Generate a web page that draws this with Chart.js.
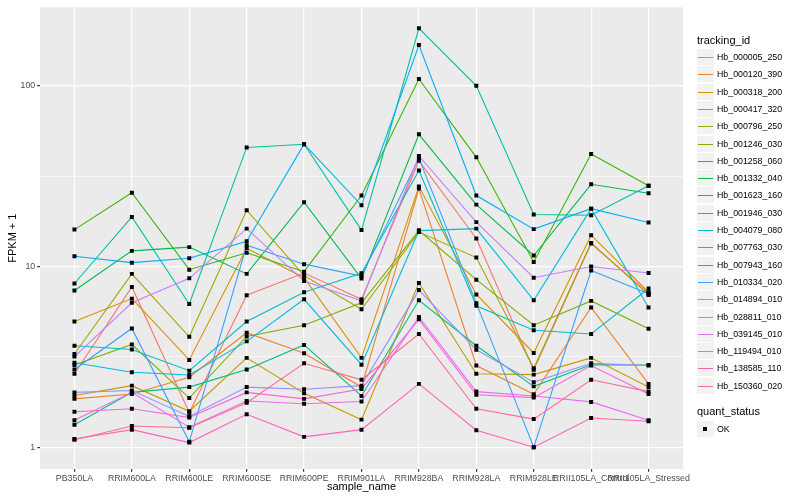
<!DOCTYPE html>
<html>
<head>
<meta charset="utf-8">
<script src="https://cdn.jsdelivr.net/npm/chart.js@4.4.0/dist/chart.umd.min.js"></script>
<style>
  body { margin: 0; background: #ffffff; }
  #wrap { position: relative; width: 800px; height: 500px; font-family: "Liberation Sans", Arial, sans-serif; }
  #chart { position: absolute; left: 0; top: 0; }
  .ttl { position: absolute; left: 697px; font-size: 11px; line-height: 13px; color: #000; white-space: nowrap; }
  .key { position: absolute; left: 697px; width: 17px; height: 16px; background: #F2F2F2; }
  .key span { position: absolute; left: 1px; width: 15px; top: 8px; height: 1px; }
  .key b { position: absolute; left: 6px; top: 6px; width: 4px; height: 4px; background: #000; }
  .lbl { position: absolute; left: 717px; font-size: 8.8px; line-height: 10px; color: #000; white-space: nowrap; }
</style>
</head>
<body>
<div id="wrap">
  <canvas id="chart" width="800" height="500"></canvas>
  <div id="legend"></div>
</div>
<script>
// Categories on the x axis
const sampleNames = ['PB350LA', 'RRIM600LA', 'RRIM600LE', 'RRIM600SE', 'RRIM600PE', 'RRIM901LA',
  'RRIM928BA', 'RRIM928LA', 'RRIM928LE', 'RRII105LA_Control', 'RRII105LA_Stressed'];

// FPKM + 1 per gene, one value per sample
const hb_000005_250 = [2.55, 7.7, 1.55, 6.93, 9.2, 6.58, 38.5, 14.3, 2.68, 13.4, 7.07];
const hb_000120_390 = [1.85, 1.97, 2.44, 4.3, 3.31, 2.15, 27.0, 2.83, 1.96, 5.93, 2.24];
const hb_000318_200 = [4.96, 6.64, 3.04, 12.6, 8.66, 3.12, 27.7, 7.0, 3.32, 14.9, 7.2];
const hb_000417_320 = [1.93, 2.19, 1.58, 3.12, 1.99, 1.42, 8.1, 2.55, 2.52, 3.12, 2.15];
const hb_000796_250 = [3.28, 9.1, 4.08, 20.5, 8.9, 5.8, 15.5, 11.2, 2.73, 13.5, 6.96];
const hb_001246_030 = [2.85, 3.7, 1.87, 4.1, 4.73, 6.3, 15.8, 8.45, 4.73, 6.45, 4.52];
const hb_001258_060 = [16.0, 25.6, 9.6, 11.9, 9.36, 24.7, 109, 40.2, 10.6, 41.9, 28.0];
const hb_001332_040 = [7.36, 12.2, 12.8, 9.1, 22.7, 8.57, 53.9, 22.0, 11.5, 28.5, 25.4];
const hb_001623_160 = [1.33, 2.01, 2.15, 2.69, 3.68, 1.92, 6.5, 3.64, 2.17, 2.86, 2.85];
const hb_001946_030 = [8.05, 18.8, 6.2, 45.6, 47.5, 15.9, 208, 100, 19.4, 19.2, 28.0];
const hb_004079_080 = [3.64, 3.47, 2.65, 4.96, 7.2, 9.17, 34.0, 6.06, 4.44, 4.23, 7.55];
const hb_007763_030 = [2.93, 2.6, 2.51, 3.85, 6.58, 2.86, 15.8, 16.2, 6.5, 20.9, 5.93];
const hb_007943_160 = [11.4, 10.5, 11.1, 13.8, 47.5, 21.8, 168, 24.7, 16.1, 20.9, 17.5];
const hb_010334_020 = [2.69, 4.54, 1.07, 13.1, 10.3, 8.84, 39.8, 6.27, 1.0, 9.5, 7.07];
const hb_014894_010 = [2.01, 2.06, 1.48, 2.15, 2.09, 2.19, 7.4, 3.46, 2.29, 2.91, 2.83];
const hb_028811_010 = [3.17, 6.3, 8.6, 16.2, 8.3, 6.45, 40.9, 17.6, 8.67, 10.0, 9.2];
const hb_039145_010 = [1.41, 2.01, 1.29, 1.80, 1.74, 1.79, 5.26, 2.03, 1.92, 1.78, 1.41];
const hb_119494_010 = [1.57, 1.63, 1.46, 2.01, 1.85, 2.1, 5.1, 1.95, 1.88, 2.83, 1.97];
const hb_138585_110 = [1.11, 1.25, 1.06, 1.52, 1.14, 1.25, 2.24, 1.24, 1.0, 1.45, 1.39];
const hb_150360_020 = [1.10, 1.31, 1.28, 1.76, 2.91, 2.36, 4.23, 1.63, 1.43, 2.36, 2.03];

const trackingIds = ['Hb_000005_250', 'Hb_000120_390', 'Hb_000318_200', 'Hb_000417_320', 'Hb_000796_250',
  'Hb_001246_030', 'Hb_001258_060', 'Hb_001332_040', 'Hb_001623_160', 'Hb_001946_030',
  'Hb_004079_080', 'Hb_007763_030', 'Hb_007943_160', 'Hb_010334_020', 'Hb_014894_010',
  'Hb_028811_010', 'Hb_039145_010', 'Hb_119494_010', 'Hb_138585_110', 'Hb_150360_020'];
const seriesValues = [hb_000005_250, hb_000120_390, hb_000318_200, hb_000417_320, hb_000796_250,
  hb_001246_030, hb_001258_060, hb_001332_040, hb_001623_160, hb_001946_030,
  hb_004079_080, hb_007763_030, hb_007943_160, hb_010334_020, hb_014894_010,
  hb_028811_010, hb_039145_010, hb_119494_010, hb_138585_110, hb_150360_020];

const yTicks = [1, 10, 100];
const quantStatus = ['OK'];

// ggplot default hue palette for 20 groups
const hueColors = ['#F8766D', '#EA8331', '#D89000', '#C09B00', '#A3A500', '#7CAE00', '#39B600', '#00BB4E',
  '#00BF7D', '#00C1A3', '#00BFC4', '#00BAE0', '#00B0F6', '#35A2FF', '#9590FF', '#C77CFF',
  '#E76BF3', '#FA62DB', '#FF62BC', '#FF6C91'];

const FONT = '"Liberation Sans", Arial, sans-serif';

// minor breaks sit half way between the majors in log space
const yGrid = [];
yTicks.forEach((t, i) => {
  yGrid.push(t);
  if (i < yTicks.length - 1) yGrid.push(Math.sqrt(t * yTicks[i + 1]));
});
const isMajor = v => yTicks.some(t => Math.abs(t - v) < 1e-9);

// grey panel behind the grid
const panelBg = {
  id: 'panelBg',
  beforeDraw(chart) {
    const { ctx, chartArea: a } = chart;
    ctx.save();
    ctx.fillStyle = '#EBEBEB';
    ctx.fillRect(a.left, a.top, a.right - a.left, a.bottom - a.top);
    ctx.restore();
  }
};

const lineSets = trackingIds.map((id, i) => ({
  type: 'line',
  label: id,
  data: seriesValues[i].map((v, j) => ({ x: j, y: v })),
  borderColor: hueColors[i],
  borderWidth: 1.1,
  pointRadius: 0,
  tension: 0,
  fill: false,
  order: trackingIds.length - i
}));

const pointSet = {
  type: 'scatter',
  label: quantStatus[0],
  data: seriesValues.flatMap(s => s.map((v, j) => ({ x: j, y: v }))),
  pointStyle: 'rect',
  pointRadius: 2.8,
  backgroundColor: '#000000',
  borderWidth: 0,
  showLine: false,
  order: 0
};

new Chart(document.getElementById('chart'), {
  type: 'line',
  data: { datasets: [...lineSets, pointSet] },
  plugins: [panelBg],
  options: {
    responsive: false,
    animation: false,
    devicePixelRatio: 1,
    layout: { padding: { left: 0, right: 117, top: 5, bottom: 0 } },
    plugins: { legend: { display: false }, tooltip: { enabled: false } },
    scales: {
      x: {
        type: 'linear',
        bounds: 'data',
        min: -0.6,
        max: sampleNames.length - 0.4,
        afterBuildTicks: s => { s.ticks = sampleNames.map((_, i) => ({ value: i })); },
        afterFit: s => { s.height = 31; },
        ticks: {
          autoSkip: false, maxRotation: 0, minRotation: 0, padding: 1.5,
          color: '#4D4D4D', font: { family: FONT, size: 8.8 },
          callback: v => sampleNames[v]
        },
        grid: { color: '#FFFFFF', lineWidth: 1.2, tickColor: '#333333', tickLength: 2.75 },
        border: { display: false },
        title: { display: true, text: 'sample_name', color: '#000000',
          font: { family: FONT, size: 11 }, padding: { top: 0, bottom: 6 } }
      },
      y: {
        type: 'logarithmic',
        bounds: 'data',
        min: 0.757,
        max: 272,
        afterBuildTicks: s => { s.ticks = yGrid.map(v => ({ value: v })); },
        afterFit: s => { s.width = 40; },
        ticks: {
          padding: 2, color: '#4D4D4D', font: { family: FONT, size: 8.8 },
          callback: v => isMajor(v) ? String(v) : ''
        },
        grid: {
          color: '#FFFFFF',
          lineWidth: c => (c.tick && isMajor(c.tick.value)) ? 1.2 : 0.6,
          tickColor: c => (c.tick && isMajor(c.tick.value)) ? '#333333' : 'rgba(0,0,0,0)',
          tickLength: 2.75
        },
        border: { display: false },
        title: { display: true, text: 'FPKM + 1', color: '#000000',
          font: { family: FONT, size: 11 }, padding: { top: 6, bottom: 0 } }
      }
    }
  }
});

// legend drawn as html text
const legend = document.getElementById('legend');
function add(html) { legend.insertAdjacentHTML('beforeend', html); }
add(`<div class="ttl" style="top:34px">tracking_id</div>`);
trackingIds.forEach((id, i) => {
  const cy = 57 + 17.3 * i;
  add(`<div class="key" style="top:${Math.round(cy - 8)}px"><span style="background:${hueColors[i]}"></span></div>`);
  add(`<div class="lbl" style="top:${Math.round(cy - 5)}px">${id}</div>`);
});
add(`<div class="ttl" style="top:405px">quant_status</div>`);
quantStatus.forEach((q, i) => {
  const cy = 429 + 17.3 * i;
  add(`<div class="key" style="top:${Math.round(cy - 8)}px"><b></b></div>`);
  add(`<div class="lbl" style="top:${Math.round(cy - 5)}px">${q}</div>`);
});
</script>
</body>
</html>
